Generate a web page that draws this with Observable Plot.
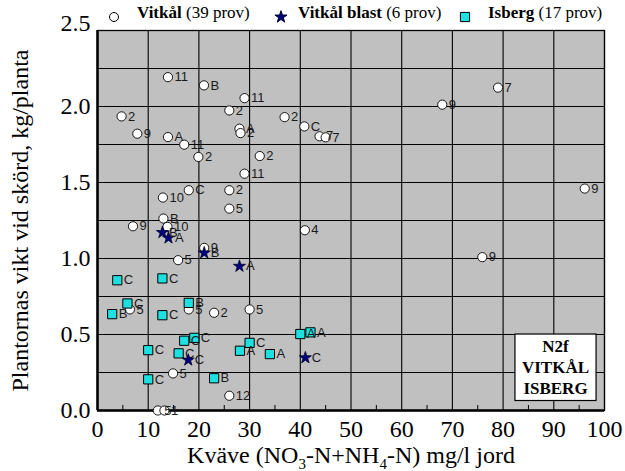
<!DOCTYPE html>
<html><head><meta charset="utf-8">
<script src="https://cdn.jsdelivr.net/npm/d3@7"></script>
<script src="https://cdn.jsdelivr.net/npm/@observablehq/plot@0.6"></script>
<style>
html,body{margin:0;padding:0;background:#fff;}
#wrap{width:625px;height:471px;overflow:hidden;}
#legend{position:relative;width:625px;height:22px;font-family:"Liberation Serif","Times New Roman",serif;font-size:17px;color:#000;}
#legend span.t{position:absolute;top:3px;line-height:20px;white-space:nowrap;}
#legend svg{position:absolute;overflow:visible;}
#chart svg{overflow:visible;display:block;}
</style></head>
<body><div id="wrap"><div id="legend"></div><div id="chart"></div></div>
<script>
// ---- data ----
const vitkalN = [13.9,21.0,29.0,26.0,4.75,28.0,28.2,7.85,13.9,17.1,19.9,32.0,29.0,36.9,40.8,43.8,45.0,68.0,79.0,96.1,18.0,26.0,12.9,26.0,13.0,7.0,13.8,21.05,15.9,40.9,75.9,30.0,6.4,18.0,23.0,14.9,26.0,11.9,13.2];
const vitkalVikt = [2.193,2.139,2.055,1.974,1.935,1.854,1.825,1.821,1.799,1.749,1.668,1.674,1.558,1.930,1.869,1.804,1.797,2.012,2.124,1.46,1.449,1.449,1.401,1.328,1.263,1.212,1.208,1.070,0.989,1.186,1.009,0.665,0.665,0.665,0.643,0.244,0.097,0.0,0.0];
const vitkalLabel = ["11","B","11","2","2","A","2","9","A","11","2","2","11","2","C","7","7","9","7","9","C","2","10","5","B","9","10","9","5","4","9","5","5","5","2","5","12","5","1"];

const blastN = [12.8,14.0,21.05,28.0,17.9,41.0];
const blastVikt = [1.171,1.135,1.037,0.949,0.332,0.347];
const blastLabel = ["B","A","B","A","C","C"];

const isbergN = [3.9,12.8,5.9,18.0,2.9,12.8,19.1,17.1,10.0,16.0,30.0,28.1,34.0,10.0,23.0,40.0,42.0];
const isbergVikt = [0.857,0.869,0.704,0.708,0.634,0.627,0.478,0.459,0.397,0.376,0.445,0.393,0.371,0.205,0.212,0.503,0.514];
const isbergLabel = ["C","C","C","B","B","C","C","C","C","C","C","A","A","C","B","A","A"];

const xTicks = [0,10,20,30,40,50,60,70,80,90,100];
const xMinor = [5,15,25,35,45,55,65,75,85,95];
const yTicks = [0,0.5,1.0,1.5,2.0,2.5];
const yGrid = [0.25,0.5,0.75,1.0,1.25,1.5,1.75,2.0,2.25];

const xLabel = "Kväve (NO3-N+NH4-N) mg/l jord";
const xLabelParts = [["Kväve (NO",false],["3",true],["-N+NH",false],["4",true],["-N) mg/l jord",false]];
const yLabel = "Plantornas vikt vid skörd, kg/planta";
const seriesNames = ["Vitkål","Vitkål blast","Isberg"];
const seriesCounts = ["(39 prov)","(6 prov)","(17 prov)"];
const boxLines = ["N2f","VITKÅL","ISBERG"];

// ---- styles ----
const cyan = "#1ee0e0", navy = "#000080";
const serif = "Liberation Serif, Times New Roman, serif";
const sans = "Liberation Sans, Arial, Helvetica, sans-serif";

const vitkal = vitkalN.map((n,i)=>({n, v: vitkalVikt[i], label: vitkalLabel[i]}));
const blast = blastN.map((n,i)=>({n, v: blastVikt[i], label: blastLabel[i]}));
const isberg = isbergN.map((n,i)=>({n, v: isbergVikt[i], label: isbergLabel[i]}));

// ---- legend (HTML, above the SVG) ----
const legendStyle = [
  {type: d3.symbolCircle, size: Math.PI*4.5*4.5, fill: "white", stroke: "black", symX: 114, textX: 137},
  {type: d3.symbolStar, size: Math.PI*3.8*3.8, fill: navy, stroke: "#000030", symX: 281, textX: 298},
  {type: d3.symbolSquare, size: Math.PI*5.2*5.2, fill: cyan, stroke: "black", symX: 465, textX: 488}
];
const leg = d3.select("#legend");
seriesNames.forEach((name,i)=>{
  const st = legendStyle[i];
  const sv = leg.append("svg").attr("width",16).attr("height",16)
    .style("left",(st.symX-8)+"px").style("top",(17-8)+"px");
  sv.append("path").attr("transform","translate(8,8)")
    .attr("d", d3.symbol(st.type, st.size)())
    .attr("fill", st.fill).attr("stroke", st.stroke).attr("stroke-width", 1);
  const t = leg.append("span").attr("class","t").style("left", st.textX+"px");
  t.append("b").text(name);
  t.append("span").text(" " + seriesCounts[i]);
});

// ---- plot ----
const labelOpts = {x: "n", y: "v", text: "label", dx: 6.5, textAnchor: "start", fontFamily: sans, fontSize: 13, fill: "#1a1a1a"};
const svg = Plot.plot({
  width: 625, height: 449,
  marginTop: 8, marginRight: 21, marginBottom: 61, marginLeft: 97,
  style: {fontFamily: serif, fontSize: "24px", color: "#000", background: "transparent", overflow: "visible"},
  x: {domain: [0,100], ticks: xTicks, tickSize: 0, tickPadding: 9, label: xLabel, labelAnchor: "center", labelOffset: 52, labelArrow: "none"},
  y: {domain: [0,2.5], ticks: yTicks, tickSize: 0, tickPadding: 7, tickFormat: d3.format(".1f"), label: yLabel, labelAnchor: "center", labelOffset: 87, labelArrow: "none"},
  marks: [
    Plot.frame({fill: "#c0c0c0", stroke: null}),
    Plot.ruleX(xTicks, {stroke: "#000", strokeWidth: 1.1}),
    Plot.ruleY(yGrid, {stroke: "#000", strokeWidth: 1.1}),
    Plot.tickX(xMinor, {stroke: "#000", strokeWidth: 1, insetTop: 375}),
    Plot.frame({stroke: "#000", strokeWidth: 1.3}),
    Plot.ruleX([0], {stroke: "#000", strokeWidth: 2.5}),
    Plot.ruleY([0], {stroke: "#000", strokeWidth: 2.5}),
    Plot.dot(vitkal, {x: "n", y: "v", r: 4.6, fill: "white", stroke: "black", strokeWidth: 0.9}),
    Plot.text(vitkal, labelOpts),
    Plot.dot(isberg, {x: "n", y: "v", symbol: "square", r: 5.2, fill: cyan, stroke: "black", strokeWidth: 1}),
    Plot.text(isberg, labelOpts),
    Plot.dot(blast, {x: "n", y: "v", symbol: "star", r: 3.8, fill: navy, stroke: "#000030", strokeWidth: 0.8}),
    Plot.text(blast, labelOpts),
    Plot.text([boxLines.join("\n")], {frameAnchor: "bottom-right", dx: -49, dy: -17, textAnchor: "middle", lineAnchor: "bottom", lineHeight: 1.22, fontFamily: serif, fontWeight: "bold", fontSize: 17, fill: "#000"})
  ]
});
document.getElementById("chart").append(svg);

const s = d3.select(svg);
// x label with subscripts
s.selectAll("text").filter(function(){ return this.textContent.startsWith("Kväve"); }).each(function(){
  const t = d3.select(this);
  t.text(null);
  let shifted = false;
  xLabelParts.forEach(([str, sub])=>{
    const ts = t.append("tspan").text(str);
    if (sub && !shifted) { ts.attr("dy", 6).attr("font-size", 15); shifted = true; }
    else if (sub) { ts.attr("font-size", 15); }
    else if (!sub && shifted) { ts.attr("dy", -6); shifted = false; }
  });
});
s.selectAll("text").filter(function(){ return this.textContent.startsWith("Plantornas"); }).text(yLabel);
// top tick label sits a little higher in the reference
s.selectAll("text").filter(function(){ return this.textContent === "2.5"; })
  .attr("transform", function(){ return (this.getAttribute("transform") || "") + " translate(0,-7)"; });

// annotation box (rect shares the text's own transform)
s.selectAll("text").filter(function(){ return this.textContent.startsWith("N2f"); }).each(function(){
  const bb = this.getBBox();
  const tr = this.getAttribute("transform");
  const r = d3.select(this.parentNode).insert("rect", () => this)
    .attr("x", bb.x - 7).attr("y", bb.y - 3)
    .attr("width", bb.width + 14).attr("height", bb.height + 6)
    .attr("fill", "white").attr("stroke", "#000").attr("stroke-width", 1.2);
  if (tr) r.attr("transform", tr);
});
</script></body></html>
